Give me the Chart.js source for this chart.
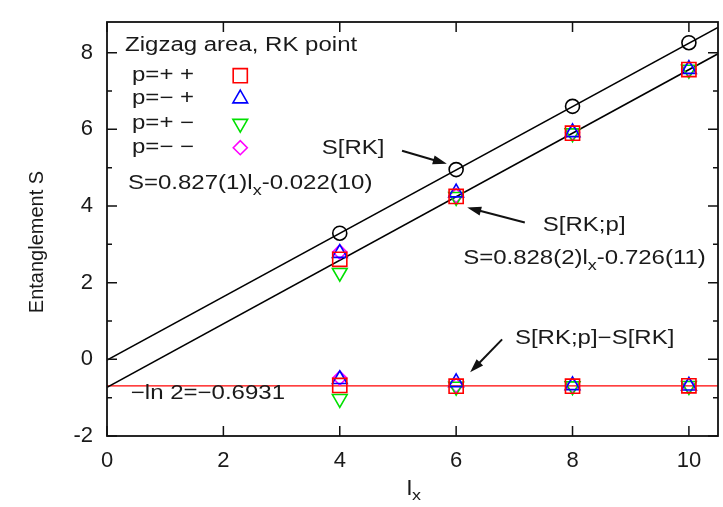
<!DOCTYPE html>
<html><head><meta charset="utf-8">
<script src="https://cdn.jsdelivr.net/npm/chart.js@4.4.1/dist/chart.umd.min.js"></script>
<style>html,body{margin:0;padding:0;background:#fff;}#wrap{width:723px;height:507px;}</style>
</head><body><div id="wrap"><canvas id="c" width="723" height="507"></canvas></div>
<script>
// ---- data ----
const lx = [4, 6, 8, 10];
const sRK = [3.29, 4.95, 6.60, 8.26];
const sPP = [2.61, 4.25, 5.90, 7.56];
const sMP = [2.77, 4.35, 5.92, 7.57];
const sPM = [2.26, 4.24, 5.90, 7.56];
const sMM = [2.80, 4.27, 5.91, 7.57];
const dPP = [-0.68, -0.70, -0.70, -0.69];
const dMP = [-0.52, -0.60, -0.68, -0.69];
const dPM = [-1.03, -0.71, -0.70, -0.69];
const dMM = [-0.49, -0.68, -0.69, -0.69];
const fitRKx = [0, 10.5];
const fitRKy = [-0.02, 8.66];
const fitPx = [0, 10.5];
const fitPy = [-0.73, 7.97];
const ln2x = [0, 10.5];
const ln2y = [-0.6931, -0.6931];
const xTicks = [0, 2, 4, 6, 8, 10];
const yTicks = [-2, 0, 2, 4, 6, 8];
const yMinor = [-1, 1, 3, 5, 7];
const legendLabels = ['p=+ +', 'p=\u2212 +', 'p=+ \u2212', 'p=\u2212 \u2212'];

const FONT = '"Liberation Sans", Arial, Helvetica, sans-serif';
const SX = 1.2;
const pts = (xs, ys) => xs.map((x, i) => ({x: x, y: ys[i]}));
const none = 'rgba(0,0,0,0)';

function marker(label, xs, ys, color, style, r, rot, legend) {
  return {label: label, data: pts(xs, ys), showLine: false, pointStyle: style, pointRadius: r,
    pointRotation: rot, pointBorderColor: color, pointBackgroundColor: none, pointBorderWidth: 1.6,
    borderColor: color, backgroundColor: none, legendRow: legend};
}
function line(label, xs, ys, color, w) {
  return {label: label, data: pts(xs, ys), showLine: true, borderColor: color, borderWidth: w,
    pointRadius: 0, backgroundColor: none, fill: false};
}

const datasets = [
  marker('p=++', lx, sPP, '#ff0000', 'rect', 10, 0, 0),
  marker('p=-+', lx, sMP, '#0000ff', 'triangle', 8.5, 0, 1),
  marker('p=+-', lx, sPM, '#00e000', 'triangle', 8.5, 180, 2),
  marker('p=--', lx, sMM, '#ff00ff', 'rectRot', 7, 0, 3),
  marker('d++', lx, dPP, '#ff0000', 'rect', 10, 0, -1),
  marker('d-+', lx, dMP, '#0000ff', 'triangle', 8.5, 0, -1),
  marker('d+-', lx, dPM, '#00e000', 'triangle', 8.5, 180, -1),
  marker('d--', lx, dMM, '#ff00ff', 'rectRot', 7, 0, -1),
  marker('S[RK]', lx, sRK, '#000000', 'circle', 7, 0, -1),
  line('fitRK', fitRKx, fitRKy, '#000000', 1.6),
  line('fitP', fitPx, fitPy, '#000000', 1.6),
  line('ln2', ln2x, ln2y, '#ff0000', 1.3)
];

function txt(ctx, parts, x, y) {
  ctx.save();
  ctx.translate(x, y);
  ctx.scale(SX, 1);
  ctx.fillStyle = '#1a1a1a';
  ctx.textBaseline = 'middle';
  ctx.textAlign = 'left';
  let cx = 0;
  for (const p of parts) {
    ctx.font = (p.sub ? '15px ' : '20px ') + FONT;
    ctx.fillText(p.t, cx, p.sub ? 7 : 0);
    cx += ctx.measureText(p.t).width;
  }
  ctx.restore();
}
function arrow(ctx, x1, y1, x2, y2) {
  const a = Math.atan2(y2 - y1, x2 - x1), L = 14, H = 4.5;
  ctx.save();
  ctx.strokeStyle = '#111'; ctx.fillStyle = '#111'; ctx.lineWidth = 2;
  ctx.beginPath(); ctx.moveTo(x1, y1);
  ctx.lineTo(x2 - Math.cos(a) * (L - 2), y2 - Math.sin(a) * (L - 2)); ctx.stroke();
  ctx.beginPath(); ctx.moveTo(x2, y2);
  ctx.lineTo(x2 - L * Math.cos(a) + H * Math.sin(a), y2 - L * Math.sin(a) - H * Math.cos(a));
  ctx.lineTo(x2 - L * Math.cos(a) - H * Math.sin(a), y2 - L * Math.sin(a) + H * Math.cos(a));
  ctx.closePath(); ctx.fill();
  ctx.restore();
}

const deco = {
  id: 'deco',
  afterDatasetsDraw(chart) {
    const ctx = chart.ctx, a = chart.chartArea;
    const xs = chart.scales.x, ys = chart.scales.y;
    const X = v => xs.getPixelForValue(v), Y = v => ys.getPixelForValue(v);
    ctx.save();
    // inward ticks
    ctx.strokeStyle = '#111'; ctx.lineWidth = 1.5;
    ctx.beginPath();
    yTicks.forEach(v => { const y = Y(v); ctx.moveTo(a.left, y); ctx.lineTo(a.left + 10, y); ctx.moveTo(a.right, y); ctx.lineTo(a.right - 10, y); });
    yMinor.forEach(v => { const y = Y(v); ctx.moveTo(a.left, y); ctx.lineTo(a.left + 5, y); ctx.moveTo(a.right, y); ctx.lineTo(a.right - 5, y); });
    xTicks.forEach(v => { const x = X(v); ctx.moveTo(x, a.bottom); ctx.lineTo(x, a.bottom - 10); ctx.moveTo(x, a.top); ctx.lineTo(x, a.top + 10); });
    ctx.stroke();
    // frame
    ctx.lineWidth = 1.8;
    ctx.strokeRect(a.left, a.top, a.right - a.left, a.bottom - a.top);
    ctx.restore();

    // legend block
    txt(ctx, [{t: 'Zigzag area, RK point'}], X(0.31), Y(8.18));
    const rowsY = [7.40, 6.80, 6.15, 5.52];
    chart.data.datasets.forEach(ds => {
      if (ds.legendRow === undefined || ds.legendRow < 0) return;
      const r = ds.legendRow;
      txt(ctx, [{t: legendLabels[r]}], X(0.43), Y(rowsY[r]));
      ctx.save();
      ctx.strokeStyle = ds.pointBorderColor; ctx.fillStyle = none; ctx.lineWidth = ds.pointBorderWidth;
      Chart.helpers.drawPoint(ctx, {pointStyle: ds.pointStyle, radius: ds.pointRadius, rotation: ds.pointRotation, borderWidth: ds.pointBorderWidth}, X(2.29), Y(rowsY[r]));
      ctx.restore();
    });

    // annotations
    txt(ctx, [{t: 'S[RK]'}], X(3.69), Y(5.49));
    arrow(ctx, X(5.07), Y(5.44), X(5.84), Y(5.10));
    txt(ctx, [{t: 'S=0.827(1)l'}, {t: 'x', sub: true}, {t: '-0.022(10)'}], X(0.36), Y(4.58));
    txt(ctx, [{t: 'S[RK;p]'}], X(7.49), Y(3.49));
    arrow(ctx, X(7.18), Y(3.57), X(6.19), Y(3.96));
    txt(ctx, [{t: 'S=0.828(2)l'}, {t: 'x', sub: true}, {t: '-0.726(11)'}], X(6.12), Y(2.63));
    txt(ctx, [{t: 'S[RK;p]\u2212S[RK]'}], X(7.01), Y(0.55));
    arrow(ctx, X(6.79), Y(0.52), X(6.24), Y(-0.34));
    txt(ctx, [{t: '\u2212ln 2=\u22120.6931'}], X(0.41), Y(-0.89));

    // axis titles
    ctx.save();
    ctx.fillStyle = '#1a1a1a';
    ctx.font = '20px ' + FONT;
    ctx.textAlign = 'center'; ctx.textBaseline = 'middle';
    ctx.translate(37, (a.top + a.bottom) / 2 + 13);
    ctx.rotate(-Math.PI / 2);
    ctx.fillText('Entanglement S', 0, 0);
    ctx.restore();
    txt(ctx, [{t: 'l'}, {t: 'x', sub: true}], X(5.15), 489);
  }
};

const tickFont = {size: 22, family: FONT};
new Chart(document.getElementById('c'), {
  type: 'scatter',
  data: {datasets: datasets},
  options: {
    responsive: false,
    animation: false,
    events: [],
    layout: {autoPadding: false, padding: {top: 22, right: 5, left: 0, bottom: 0}},
    plugins: {legend: {display: false}, tooltip: {enabled: false}},
    scales: {
      x: {type: 'linear', min: 0, max: 10.5,
        afterBuildTicks: s => { s.ticks = xTicks.map(v => ({value: v})); },
        afterFit: s => { s.height = 71; s.paddingLeft = 0; s.paddingRight = 0; },
        grid: {display: false, drawTicks: false, tickLength: 0}, border: {display: false},
        ticks: {padding: 12, font: tickFont, color: '#1a1a1a', maxRotation: 0, autoSkip: false, callback: v => String(v)}},
      y: {type: 'linear', min: -2, max: 8.8,
        afterBuildTicks: s => { s.ticks = yTicks.map(v => ({value: v})); },
        afterFit: s => { s.width = 107; s.paddingTop = 0; s.paddingBottom = 0; },
        grid: {display: false, drawTicks: false, tickLength: 0}, border: {display: false},
        ticks: {padding: 14, font: tickFont, color: '#1a1a1a', autoSkip: false, callback: v => String(v)}}
    }
  },
  plugins: [deco]
});
</script>
</body></html>
